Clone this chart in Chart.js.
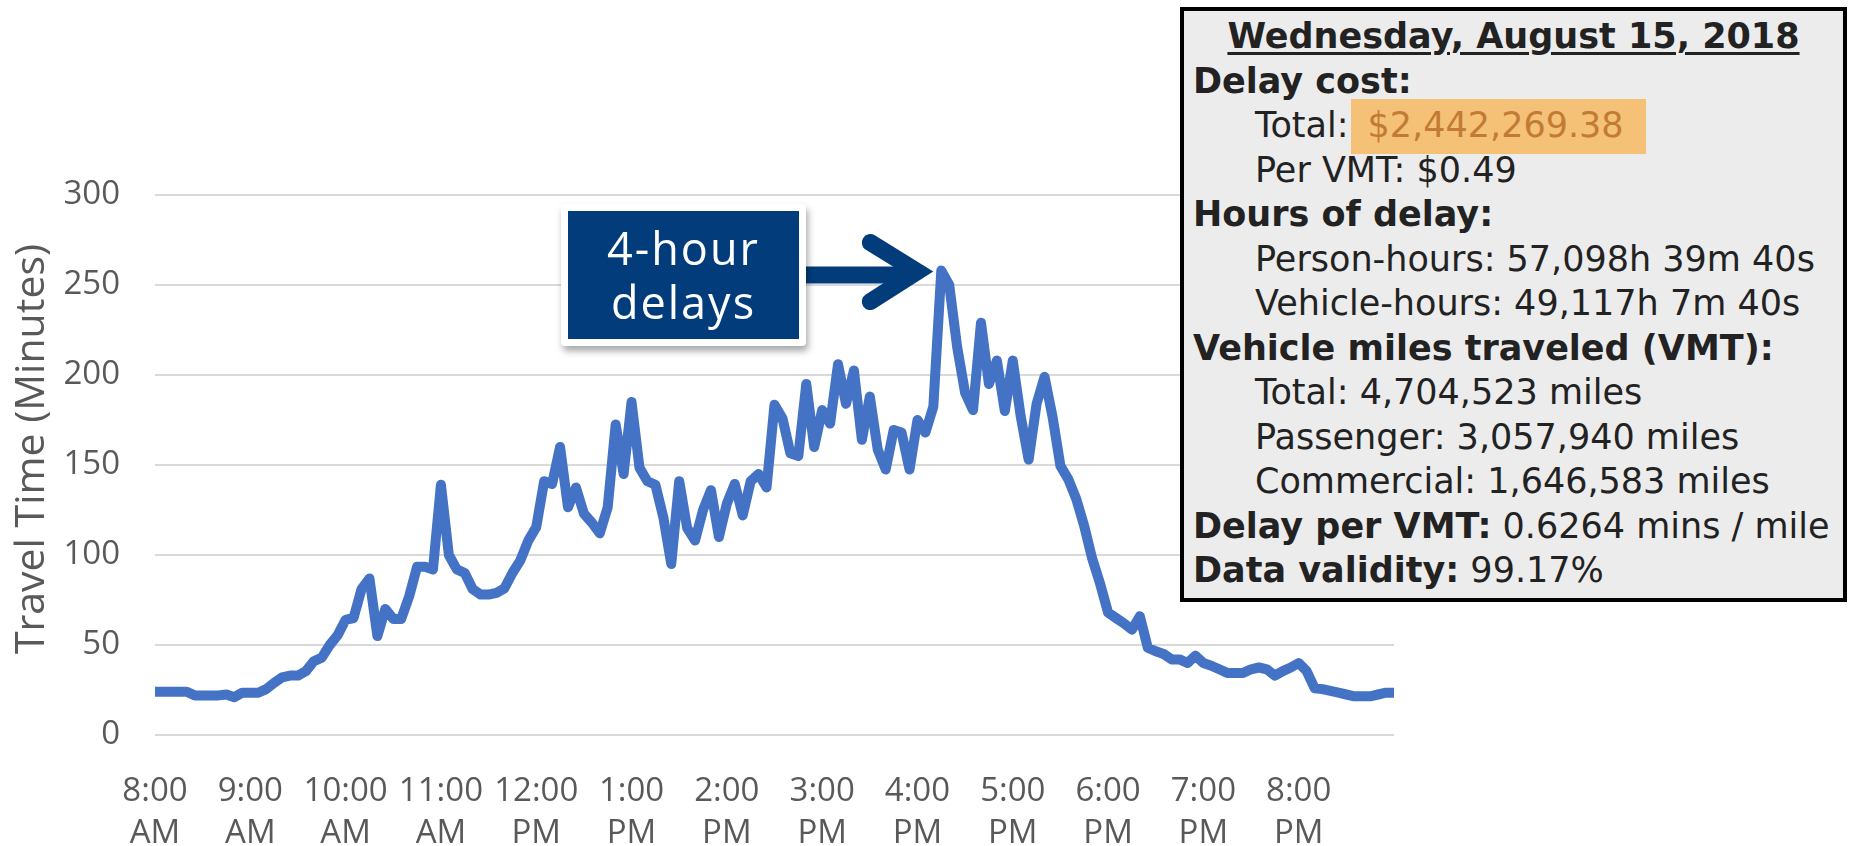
<!DOCTYPE html>
<html>
<head>
<meta charset="utf-8">
<script src="https://cdn.jsdelivr.net/npm/chart.js@4.4.0/dist/chart.umd.min.js"></script>
<style>
  html, body { margin: 0; padding: 0; background: #fff; }
  #wrap { position: relative; width: 1852px; height: 846px; overflow: hidden; }
  #chart { position: absolute; left: 0; top: 0; }
  #callout {
    position: absolute; left: 561px; top: 204px; width: 231px; height: 128px;
    box-sizing: content-box; background: #033c7b; border: 7px solid #fff; border-radius: 4px;
    box-shadow: 2px 5px 7px rgba(0,0,0,0.35);
    color: #fff; font-family: 'Open Sans'; font-size: 45px; line-height: 54px;
    letter-spacing: 2px; text-align: center;
  }
  #callout div:first-child { margin-top: 10px; }
  #info {
    position: absolute; left: 1180px; top: 7px; width: 667px; height: 595px;
    box-sizing: border-box; border: 4px solid #000; background: #ececec;
    font-family: 'DejaVu Sans'; font-size: 35px; line-height: 44.5px; color: #222;
    padding-top: 3px; white-space: nowrap;
  }
  #info .t { text-align: center; }
  #info .t b { text-decoration: underline; text-decoration-thickness: 3px; text-underline-offset: 4px; }
  #info .h { padding-left: 9px; }
  #info .s { padding-left: 71px; }
  #info .hl { background: #f5c177; color: #c27b35; padding: 6px 22px 9px 17px; margin-left: 2px; }
</style>
</head>
<body>
<div id="wrap">
  <canvas id="chart" width="1852" height="846"></canvas>
  <div id="callout"><div>4-hour</div><div>delays</div></div>
  <div id="info">
    <div class="t"><b>Wednesday, August 15, 2018</b></div>
    <div class="h"><b>Delay cost:</b></div>
    <div class="s">Total:<span class="hl">$2,442,269.38</span></div>
    <div class="s">Per VMT: $0.49</div>
    <div class="h"><b>Hours of delay:</b></div>
    <div class="s">Person-hours: 57,098h 39m 40s</div>
    <div class="s">Vehicle-hours: 49,117h 7m 40s</div>
    <div class="h"><b>Vehicle miles traveled (VMT):</b></div>
    <div class="s">Total: 4,704,523 miles</div>
    <div class="s">Passenger: 3,057,940 miles</div>
    <div class="s">Commercial: 1,646,583 miles</div>
    <div class="h"><b>Delay per VMT:</b> 0.6264 mins / mile</div>
    <div class="h"><b>Data validity:</b> 99.17%</div>
  </div>
</div>
<script>
// travel time in minutes, one reading every 5 minutes from 8:00 AM to 9:00 PM
const travelTime = [
  24, 24, 24, 24, 24, 22, 22, 22, 22, 22.5, 21, 23.5, 23.5, 23.5, 25.5, 29, 32, 33, 33, 35.5,
  41, 43, 50, 55.5, 64, 65, 81, 87, 55, 70, 64.5, 64.5, 77, 93.5, 93.5, 92, 139, 100, 92, 90,
  81, 78, 78, 79, 81.5, 90, 97, 108, 115.5, 141, 139.5, 160, 126.5, 137.5, 123, 118, 112, 126.5, 172.5, 145,
  185, 148.5, 141, 139, 121, 95, 141, 115, 108, 125, 136, 110, 128.5, 139.5, 122, 141, 145, 137.5, 183.5, 176,
  156.5, 155, 195, 160, 180.5, 173, 206, 184, 202.5, 164, 188, 158.5, 147.5, 169.5, 168, 147.5, 175, 168, 182.5, 258,
  250, 215.5, 190, 180.5, 229, 195, 208, 180, 208, 177, 153, 184, 199, 177, 149.5, 142, 131, 116, 98, 84,
  68, 65, 62, 58.5, 66, 48.5, 46.5, 45, 42, 42, 40, 44, 40, 38.5, 36.5, 34.5, 34.5, 34.5, 36.5, 37.5,
  36.5, 33, 35.5, 37.5, 40, 35.5, 26, 25.5, 24.5, 23.5, 22.5, 21.5, 21.5, 21.5, 22.5, 23.5, 23.5
];
const hourTicks = ['8:00 AM', '9:00 AM', '10:00 AM', '11:00 AM', '12:00 PM', '1:00 PM', '2:00 PM',
                   '3:00 PM', '4:00 PM', '5:00 PM', '6:00 PM', '7:00 PM', '8:00 PM'];
const yTicks = [0, 50, 100, 150, 200, 250, 300];
const yTitle = 'Travel Time (Minutes)';
const startMinute = 8 * 60;
const stepMinutes = 5;

// category labels for every reading
const timeLabels = travelTime.map((v, i) => {
    const t = startMinute + i * stepMinutes;
    const h = Math.floor(t / 60);
    const m = t % 60;
    const h12 = ((h + 11) % 12) + 1;
    return h12 + ':' + String(m).padStart(2, '0') + ' ' + (h < 12 ? 'AM' : 'PM');
});

const axisFont = { family: 'Open Sans', size: 33 };

// y axis title, drawn a bit above the plot centre like the original
const axisTitlePlugin = {
    id: 'axisTitle',
    afterDraw(chart) {
        const c = chart.ctx;
        c.save();
        c.translate(32, 449);
        c.rotate(-Math.PI / 2);
        c.font = '41px "Open Sans"';
        c.fillStyle = '#595959';
        c.textAlign = 'center';
        c.textBaseline = 'middle';
        c.fillText(yTitle, 0, 0);
        c.restore();
    }
};

// arrow pointing from the callout box to the highest reading
const arrowPlugin = {
    id: 'arrow',
    afterDatasetsDraw(chart) {
        const peak = travelTime.indexOf(Math.max(...travelTime));
        const pt = chart.getDatasetMeta(0).data[peak];
        const c = chart.ctx;
        const vx = pt.x - 24;
        const vy = pt.y + 1;
        c.save();
        c.strokeStyle = '#033c7b';
        c.lineWidth = 17;
        c.lineCap = 'butt';
        c.beginPath();
        c.moveTo(806, 275);
        c.lineTo(vx - 4, 275);
        c.stroke();
        c.lineCap = 'round';
        c.lineJoin = 'miter';
        c.beginPath();
        c.moveTo(vx - 47, vy - 29);
        c.lineTo(vx, vy);
        c.lineTo(vx - 47, vy + 30);
        c.stroke();
        c.restore();
    }
};

const ctx = document.getElementById('chart').getContext('2d');
const chart = new Chart(ctx, {
    type: 'line',
    data: {
        labels: timeLabels,
        datasets: [{
            data: travelTime,
            borderColor: '#4472c4',
            borderWidth: 10,
            pointRadius: 0,
            tension: 0,
            fill: false,
            borderJoinStyle: 'round'
        }]
    },
    options: {
        responsive: false,
        animation: false,
        devicePixelRatio: 1,
        layout: { padding: { left: 0, top: 195, right: 458, bottom: 0 } },
        plugins: {
            legend: { display: false },
            tooltip: { enabled: false }
        },
        scales: {
            x: {
                grid: { display: false },
                border: { display: false },
                ticks: {
                    autoSkip: false,
                    maxRotation: 0,
                    padding: 27,
                    color: '#595959',
                    font: { family: axisFont.family, size: axisFont.size, lineHeight: 1.28 },
                    callback: function(value, index) {
                        const lab = timeLabels[index];
                        return hourTicks.includes(lab) ? lab.split(' ') : null;
                    }
                },
                afterFit: function(scale) { scale.height = 111; }
            },
            y: {
                min: yTicks[0],
                max: yTicks[yTicks.length - 1],
                grid: { color: '#d9d9d9', lineWidth: 2, drawTicks: false },
                border: { display: false },
                ticks: {
                    stepSize: yTicks[1] - yTicks[0],
                    padding: 35,
                    color: '#595959',
                    font: axisFont
                },
                afterFit: function(scale) { scale.width = 155; }
            }
        }
    },
    plugins: [arrowPlugin, axisTitlePlugin]
});
</script>
</body>
</html>
